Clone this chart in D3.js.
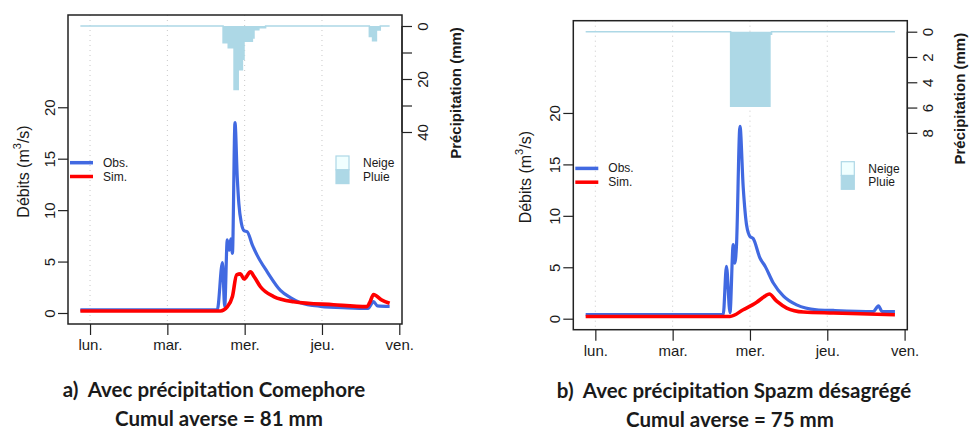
<!DOCTYPE html>
<html>
<head>
<meta charset="utf-8">
<script src="https://cdn.jsdelivr.net/npm/d3@7"></script>
<style>
  body { margin: 0; background: #fff; }
  svg { display: block; }
  text { font-family: "Liberation Sans", Arial, sans-serif; fill: #1a1a1a; }
  .caption { font-family: Lato, "Open Sans", sans-serif; font-weight: bold; }
</style>
</head>
<body>
<div id="chart"></div>
<script>
// tick labels for the days (hours from monday 00:00)
const dayLabels = ['lun.', 'mar.', 'mer.', 'jeu.', 'ven.'];
const dayHours = [0, 24, 48, 72, 96];
const flowTicks = [0, 5, 10, 15, 20];

// panel a : Comephore
const obsA = [[-3,0.3],[39.5,0.3],[41.1,4.9],[41.8,0.6],[42.6,7.1],[43.2,6.1],[43.7,7.2],[44.2,5.8],
  [45,18.5],[45.7,13.2],[46.2,10.6],[47,8.7],[47.8,8.0],[48.8,7.9],[50.4,6.6],[51.9,5.6],[55,4.0],
  [59.1,2.2],[62.2,1.5],[65.3,1.0],[71.5,0.65],[80,0.5],[86.3,0.45],[88,1.1],[89.2,0.7],[93,0.65]];
const simA = [[-3,0.2],[40.5,0.2],[42.6,0.6],[44.2,1.6],[45.5,3.7],[46.7,3.8],[47.8,3.3],[49.8,4.0],
  [51,3.5],[52.9,2.55],[57,1.6],[63.2,1.1],[75.6,0.8],[86,0.62],[86.8,1.0],[88,1.8],[90.6,1.25],[93,0.95]];
// precipitation steps: [start hour, mm]
const rainA = [[-3,0],[41.3,6.3],[42.9,8.2],[44.7,24],[46,16.5],[47.3,12.5],[47.8,5.8],[50.4,4.5],
  [50.9,1.4],[52.4,0.7],[54.5,0],[86.7,4],[87.7,5.6],[88.9,1.5],[90.1,0],[93,0]];
const rainTicksA = [0, 10, 20, 30, 40];
const rainLabelsA = [0, 20, 40];

// panel b : Spazm désagrégé
const obsB = [[-3,0.4],[39.7,0.4],[40.7,5.1],[41.8,0.6],[42.8,7.2],[43.3,5.4],[43.8,7.0],[44.9,18.7],
  [45.9,12.8],[47,9],[48,8.0],[49,7.8],[51.1,5.9],[52.7,5.1],[55.2,3.5],[58.4,2.2],[62.5,1.35],
  [68.7,0.87],[73.9,0.8],[86.3,0.7],[87.9,1.25],[89,0.7],[93,0.7]];
const simB = [[-3,0.22],[41.8,0.22],[45.9,0.87],[50.1,1.6],[52.7,2.2],[54,2.4],[56.3,1.7],[59.4,1.04],
  [64.6,0.65],[73.9,0.55],[93,0.39]];
const rainB = [[-3,0],[42,5.9],[54.2,0.2],[54.7,0],[93,0]];
const rainTicksB = [0, 2, 4, 6, 8];
const rainLabelsB = [0, 2, 4, 6, 8];

const W = 970, H = 430;
const pw = 334, ph = 309, pad = 11;

const svg = d3.select('#chart').append('svg')
    .attr('width', W)
    .attr('height', H);

function panel(cfg) {
  const g = svg.append('g')
      .attr('transform', 'translate(' + cfg.left + ',' + cfg.top + ')');

  const x = d3.scaleLinear().domain([-6.84, 96.84]).range([0, pw]);
  const y = d3.scaleLinear().domain([0, 27.9]).range([ph - pad, pad]);
  const yP = d3.scaleLinear().domain([0, cfg.rainMax]).range([pad, ph - pad]);

  // dotted day grid
  g.selectAll('.grid')
    .data(dayHours.slice(0, 4))
    .enter().append('line')
      .attr('x1', d => x(d)).attr('x2', d => x(d))
      .attr('y1', 0).attr('y2', ph)
      .attr('stroke', '#c8c8c8')
      .attr('stroke-dasharray', '1,4');

  // precipitation, hanging from the top
  g.append('path')
      .datum(cfg.rain)
      .attr('fill', '#add8e6')
      .attr('d', d3.area().curve(d3.curveStepAfter)
        .x(d => x(d[0])).y0(yP(0)).y1(d => yP(d[1])));
  g.append('path')
      .datum(cfg.rain)
      .attr('fill', 'none')
      .attr('stroke', '#add8e6')
      .attr('stroke-width', 1.5)
      .attr('d', d3.line().curve(d3.curveStepAfter)
        .x(d => x(d[0])).y(d => yP(d[1])));

  // flows
  const line = d3.line().curve(d3.curveMonotoneX)
    .x(d => x(d[0])).y(d => y(d[1]));
  g.append('path').datum(cfg.obs)
      .attr('fill', 'none').attr('stroke', '#4169e1')
      .attr('stroke-width', 3.2).attr('stroke-linejoin', 'round')
      .attr('d', line);
  g.append('path').datum(cfg.sim)
      .attr('fill', 'none').attr('stroke', '#ff0000')
      .attr('stroke-width', 3.6).attr('stroke-linejoin', 'round')
      .attr('d', line);

  // box
  g.append('rect')
      .attr('width', pw).attr('height', ph)
      .attr('fill', 'none').attr('stroke', '#222').attr('stroke-width', 1.5);

  // x axis
  const xAxis = g.append('g')
      .attr('transform', 'translate(0,' + ph + ')')
      .call(d3.axisBottom(x).tickValues(dayHours).tickFormat((d, i) => dayLabels[i]).tickSize(11));
  xAxis.select('.domain').remove();
  xAxis.selectAll('line').attr('stroke', '#222').attr('stroke-width', 1.2);
  xAxis.selectAll('text')
      .attr('y', 21).attr('dy', '0.35em')
      .style('font-size', '15px').style('fill', '#1a1a1a')
      .style('font-family', '"Liberation Sans", Arial, sans-serif');

  // left axis
  const yAxis = g.append('g')
      .call(d3.axisLeft(y).tickValues(flowTicks).tickSize(10));
  yAxis.select('.domain').remove();
  yAxis.selectAll('line').attr('stroke', '#222').attr('stroke-width', 1.2);
  yAxis.selectAll('text')
      .attr('x', null).attr('dy', null)
      .attr('text-anchor', 'middle')
      .attr('dominant-baseline', 'central')
      .attr('transform', 'translate(-19,0) rotate(-90)')
      .style('font-size', '15px').style('fill', '#1a1a1a')
      .style('font-family', '"Liberation Sans", Arial, sans-serif');

  const yt = g.append('text')
      .attr('transform', 'translate(' + cfg.yTitleX + ',' + (ph / 2 + 2) + ') rotate(-90)')
      .attr('text-anchor', 'middle')
      .attr('dominant-baseline', 'central')
      .style('font-size', '16px');
  yt.append('tspan').text('Débits (m');
  yt.append('tspan').attr('dy', -6).style('font-size', '11px').text('3');
  yt.append('tspan').attr('dy', 6).text('/s)');

  // right axis (precipitation)
  const pAxis = g.append('g')
      .attr('transform', 'translate(' + pw + ',0)')
      .call(d3.axisRight(yP).tickValues(cfg.rainTicks)
        .tickFormat(d => cfg.rainLabels.includes(d) ? d : '').tickSize(10));
  pAxis.select('.domain').remove();
  pAxis.append('line')
      .attr('y1', yP(0)).attr('y2', yP(d3.max(cfg.rainTicks)))
      .attr('stroke', '#222').attr('stroke-width', 1.2);
  pAxis.selectAll('line').attr('stroke', '#222').attr('stroke-width', 1.2);
  pAxis.selectAll('text')
      .attr('x', null).attr('dy', null)
      .attr('text-anchor', 'middle')
      .attr('dominant-baseline', 'central')
      .attr('transform', 'translate(20,0) rotate(-90)')
      .style('font-size', '15px').style('fill', '#1a1a1a')
      .style('font-family', '"Liberation Sans", Arial, sans-serif');

  g.append('text')
      .attr('transform', 'translate(' + cfg.pTitleX + ',78) rotate(-90)')
      .attr('text-anchor', 'middle')
      .attr('dominant-baseline', 'central')
      .style('font-size', '15px').style('font-weight', 'bold')
      .text('Précipitation (mm)');

  // legend: flows
  [['Obs.', '#4169e1', 147.7], ['Sim.', '#ff0000', 161.5]].forEach(l => {
    g.append('line')
        .attr('x1', 2).attr('x2', 25).attr('y1', l[2]).attr('y2', l[2])
        .attr('stroke', l[1]).attr('stroke-width', 3.5);
    g.append('text')
        .attr('x', 35).attr('y', l[2]).attr('dominant-baseline', 'central')
        .style('font-size', '12px').text(l[0]);
  });

  // legend: precipitation type
  [['Neige', '#f0ffff', 141], ['Pluie', '#add8e6', 154.8]].forEach(l => {
    g.append('rect')
        .attr('x', 268).attr('y', l[2]).attr('width', 13).attr('height', 13.8)
        .attr('fill', l[1]).attr('stroke', '#add8e6').attr('stroke-width', 1.2);
    g.append('text')
        .attr('x', 295).attr('y', l[2] + 7).attr('dominant-baseline', 'central')
        .style('font-size', '12px').text(l[0]);
  });

  // captions
  svg.append('text')
      .attr('class', 'caption')
      .attr('x', cfg.capX).attr('y', cfg.capY)
      .attr('text-anchor', 'middle').attr('dominant-baseline', 'central')
      .style('font-size', '20.5px').style('white-space', 'pre')
      .text(cfg.caption);
  svg.append('text')
      .attr('class', 'caption')
      .attr('x', cfg.cumX).attr('y', cfg.capY + 29)
      .attr('text-anchor', 'middle').attr('dominant-baseline', 'central')
      .style('font-size', '20.5px')
      .text(cfg.cumul);
}

panel({
  left: 68, top: 15,
  obs: obsA, sim: simA, rain: rainA,
  rainMax: 108.3, rainTicks: rainTicksA, rainLabels: rainLabelsA,
  yTitleX: -45.5, pTitleX: 387,
  caption: 'a)  Avec précipitation Comephore', capX: 214, capY: 389,
  cumul: 'Cumul averse = 81 mm', cumX: 219
});

panel({
  left: 573.3, top: 20.7,
  obs: obsB, sim: simB, rain: rainB,
  rainMax: 22.7, rainTicks: rainTicksB, rainLabels: rainLabelsB,
  yTitleX: -48, pTitleX: 386.5,
  caption: 'b)  Avec précipitation Spazm désagrégé', capX: 734, capY: 390,
  cumul: 'Cumul averse = 75 mm', cumX: 730
});
</script>
</body>
</html>
